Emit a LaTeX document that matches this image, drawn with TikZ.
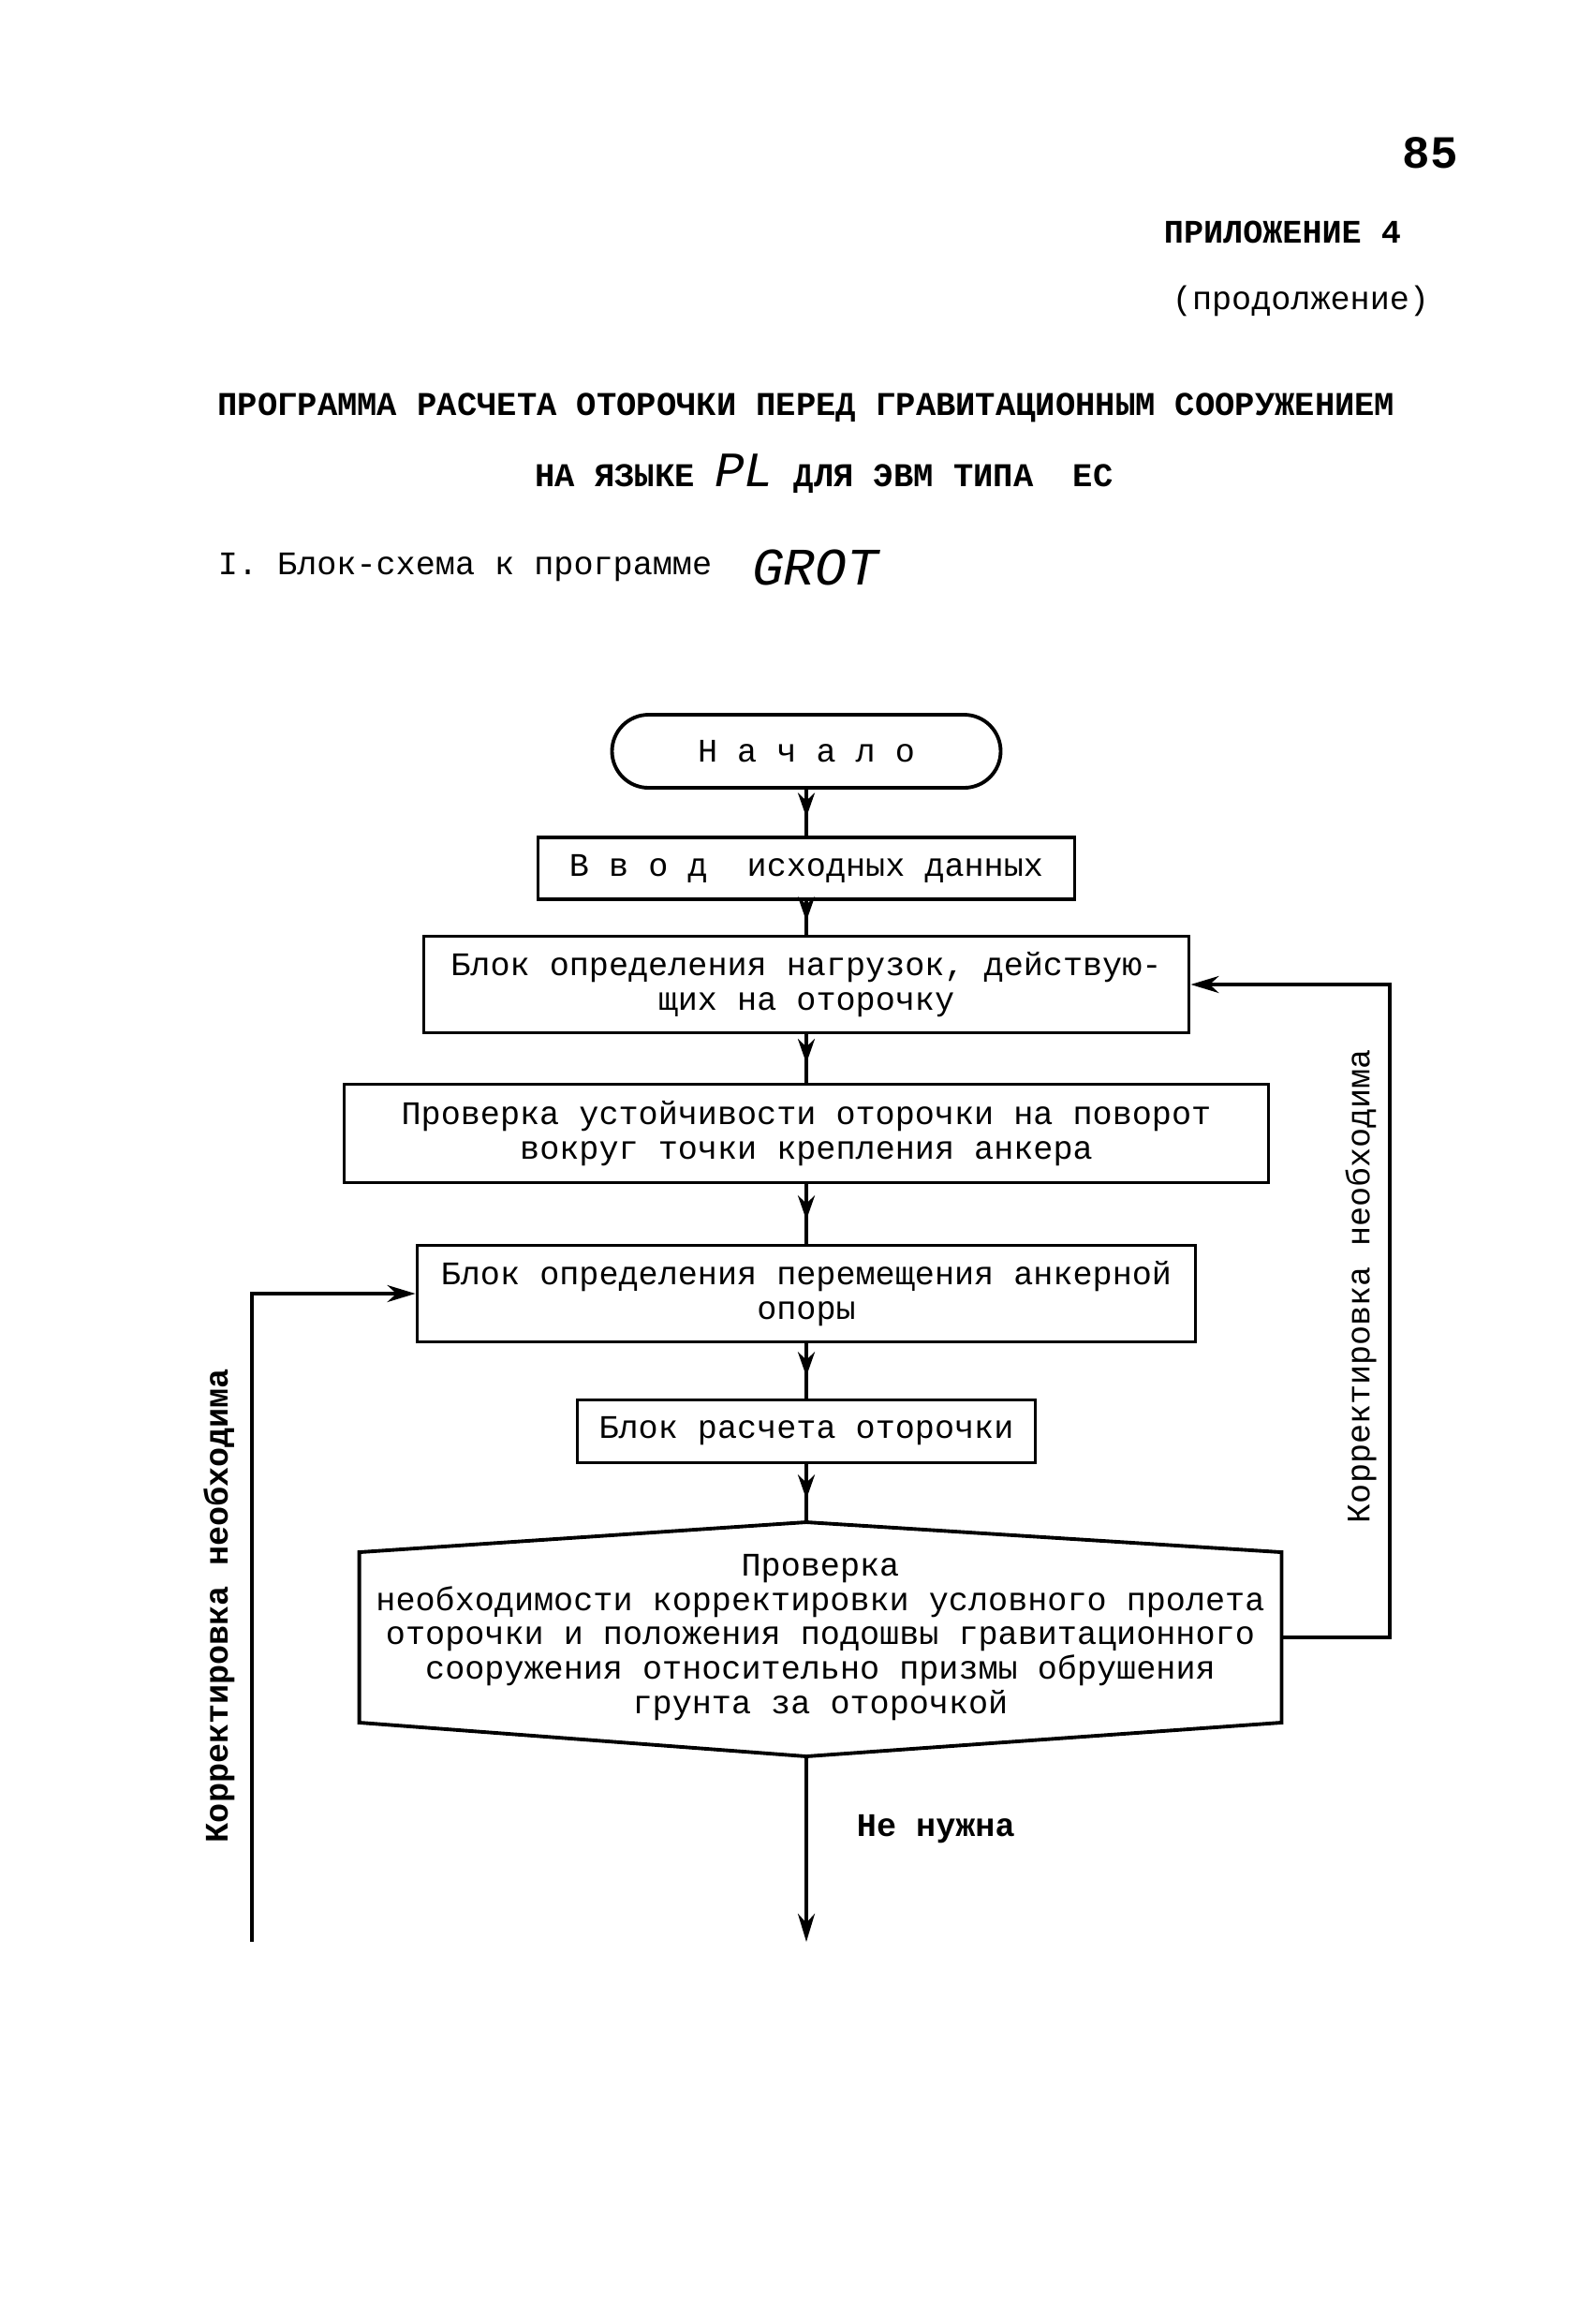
\documentclass[tikz,border=0pt]{standalone}
\usepackage{fontspec}
\setmainfont{Liberation Mono}
\usetikzlibrary{positioning}
\usetikzlibrary{calc}
\usetikzlibrary{arrows.meta}
\usetikzlibrary{decorations.markings}

\begin{document}
\begin{tikzpicture}[line width=1.1pt, font=\fontsize{10}{10.5}\selectfont,
    every node/.style={inner sep=2pt},
    blockbox/.style={draw, rectangle, align=center, minimum height=1.03cm},
    termbox/.style={draw, rectangle, rounded corners=0.39cm, minimum width=4.15cm, minimum height=0.78cm},
    midarrow/.style={postaction={decorate}, decoration={markings, mark=at position 0.6 with {\arrow{Stealth[length=2.6mm, width=1.8mm]}}}},
    endarrow/.style={-{Stealth[length=3mm, width=1.8mm]}}]
          \useasboundingbox (0, 0) rectangle (17.01, -24.81);

          % page header
          \node[font=\fontsize{14}{14}\selectfont\bfseries] (pagenum) at (15.27, -1.63) {85};
          \node[anchor=east, font=\fontsize{10}{10}\selectfont\bfseries] (app) at (15.05, -2.48) {ПРИЛОЖЕНИЕ 4};
          \node (cont) at (13.89, -3.21) {(продолжение)};
          \node[font=\fontsize{10.1}{12}\selectfont\bfseries] (title) at (8.61, -4.35) {ПРОГРАММА РАСЧЕТА ОТОРОЧКИ ПЕРЕД ГРАВИТАЦИОННЫМ СООРУЖЕНИЕМ};
          \node[font=\fontsize{10.1}{12}\selectfont\bfseries] (lang) at (8.80, -5.06) {НА ЯЗЫКЕ {\fontsize{15}{15}\selectfont\itshape\mdseries PL} ДЛЯ ЭВМ ТИПА\ \ ЕС};
          \node[anchor=west] (heading) at (2.24, -6.06) {I. Блок-схема к программе};
          \node[right=0.25cm of heading, font=\fontsize{16}{16}\selectfont\itshape] (grot) {GROT};

          % blocks
          \node[termbox] (start) at (8.61, -8.02) {Н а ч а л о};
          \node[blockbox, minimum width=5.73cm, minimum height=0.66cm] (input) at (8.61, -9.27) {В в о д\ \ исходных данных};
          \node[blockbox, minimum width=8.17cm] (loads) at (8.61, -10.51) {Блок определения нагрузок, действую-\\щих на оторочку};
          \node[blockbox, minimum width=9.87cm, minimum height=1.05cm] (stab) at (8.61, -12.10) {Проверка устойчивости оторочки на поворот\\вокруг точки крепления анкера};
          \node[blockbox, minimum width=8.31cm] (disp) at (8.61, -13.81) {Блок определения перемещения анкерной\\опоры};
          \node[blockbox, minimum width=4.89cm, minimum height=0.67cm] (calcbox) at (8.61, -15.28) {Блок расчета оторочки};
          \node[align=center, minimum width=9.81cm, minimum height=1.74cm, inner sep=0pt] (check) at (8.76, -17.48) {Проверка\\необходимости корректировки условного пролета\\оторочки и положения подошвы гравитационного\\сооружения относительно призмы обрушения\\грунта за оторочкой};
          \coordinate (hexTop) at (8.61, -16.25);
          \coordinate (hexBot) at (8.61, -18.75);
          \draw (hexTop) -- (check.north east) -- (check.south east) -- (hexBot) -- (check.south west) -- (check.north west) -- cycle;

          % loop ends
          \coordinate (fin) at (8.61, -20.73);
          \coordinate (rloop) at (14.84, -10.51);
          \coordinate (lbot) at (2.69, -20.73);

          \draw[midarrow] (start) -- (input);
          \draw[midarrow] (input) -- (loads);
          \draw[midarrow] (loads) -- (stab);
          \draw[midarrow] (stab) -- (disp);
          \draw[midarrow] (disp) -- (calcbox);
          \draw[midarrow] (calcbox) -- (hexTop);
          \draw[endarrow] (hexBot) -- (fin) node[pos=0.39, right=0.45cm, font=\fontsize{10}{10}\selectfont\bfseries] (notneed) {Не нужна};

          \draw[endarrow] (check.east) -| (rloop) -- (loads.east);
          \draw[endarrow] (lbot) |- (disp.west);

          \node[rotate=90] (rlabel) at (14.53, -13.73) {Корректировка необходима};
          \node[rotate=90, font=\fontsize{10}{10}\selectfont\bfseries] (llabel) at (2.34, -17.14) {Корректировка необходима};
        \end{tikzpicture}
\end{document}
